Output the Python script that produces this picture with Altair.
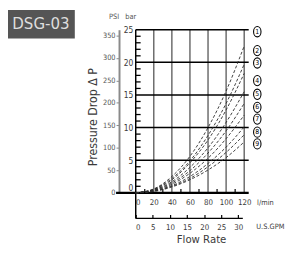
import altair as alt
import pandas as pd

# ---------------- data ----------------
flow_lpm = [0, 20, 40, 60, 80, 100, 120]
curve_ids = ["1", "2", "3", "4", "5", "6", "7", "8", "9"]
dp_1 = [0, 0.6, 2.5, 5.6, 10.0, 15.6, 22.5]
dp_2 = [0, 0.55, 2.2, 4.9, 8.8, 13.7, 19.7]
dp_3 = [0, 0.5, 2.0, 4.6, 8.1, 12.7, 18.3]
dp_4 = [0, 0.45, 1.7, 3.9, 6.9, 10.8, 15.5]
dp_5 = [0, 0.4, 1.5, 3.4, 6.1, 9.5, 13.7]
dp_6 = [0, 0.35, 1.3, 3.0, 5.3, 8.3, 11.9]
dp_7 = [0, 0.3, 1.1, 2.5, 4.5, 7.0, 10.1]
dp_8 = [0, 0.25, 1.0, 2.2, 4.0, 6.2, 8.9]
dp_9 = [0, 0.2, 0.9, 2.0, 3.5, 5.4, 7.8]
all_dp = [dp_1, dp_2, dp_3, dp_4, dp_5, dp_6, dp_7, dp_8, dp_9]

label_bar = [24.7, 21.8, 19.9, 17.2, 15.1, 13.1, 11.3, 9.3, 7.5]
label_flow = 134.5

lpm_ticks = [0, 20, 40, 60, 80, 100, 120]
lpm_minor = [10, 30, 50, 70, 90, 110]
gpm_ticks = [0, 5, 10, 15, 20, 25, 30]
bar_ticks = [0, 5, 10, 15, 20, 25]
bar_minor = [v for v in range(1, 25) if v % 5 != 0]
psi_ticks = [0, 50, 100, 150, 200, 250, 300, 350]
LPM_PER_GPM = 3.785
PSI_PER_BAR = 14.504

# ---------------- layout ----------------
W, H = 115, 166
FONT = "DejaVu Sans Condensed, Liberation Sans Narrow, sans-serif"
TXT = "#3a3a3a"

xs = alt.Scale(domain=[0, 125], nice=False, zero=False)
ys = alt.Scale(domain=[0, 25], nice=False, zero=False)

rows = []
for cid, vals in zip(curve_ids, all_dp):
    for q, v in zip(flow_lpm, vals):
        rows.append({"curve": cid, "q": q, "dp": v})
curves_df = pd.DataFrame(rows)

bar_axis = alt.Axis(
    orient="left", values=bar_ticks, domain=False, ticks=False, tickSize=0,
    grid=False, title=None, labelPadding=3, labelFontSize=8.5, labelColor=TXT,
    labelFont=FONT,
    labelOffset={"condition": {"test": "datum.value === 0", "value": -5}, "value": 0},
)
lpm_axis = alt.Axis(
    orient="bottom", values=lpm_ticks, domain=False, ticks=False, tickSize=0,
    grid=False, title=None, labelPadding=6, labelFontSize=8, labelColor=TXT,
    labelFont=FONT, labelFlush=False, labelOverlap=False,
    labelOffset={"condition": {"test": "datum.value === 0", "value": 2}, "value": 0},
)
psi_axis = alt.Axis(
    orient="left", offset=17, values=[p / PSI_PER_BAR for p in psi_ticks],
    labelExpr="format(datum.value * 14.504, '.0f')",
    domain=True, domainColor="#8a8a8a", domainWidth=2, ticks=True, tickSize=3,
    tickColor="#8a8a8a", grid=False, title=None, labelPadding=1,
    labelFontSize=7.5, labelColor="#555", labelFont=FONT, labelOverlap=False,
)
gpm_axis = alt.Axis(
    orient="bottom", offset=22, values=[g * LPM_PER_GPM for g in gpm_ticks],
    labelExpr="format(datum.value / 3.785, '.0f')",
    domain=False, ticks=True, tickSize=4, tickColor="black", tickWidth=1.2,
    grid=False, title=None, labelPadding=5, labelFontSize=8, labelColor=TXT,
    labelFont=FONT, labelFlush=False, labelOverlap=False,
    labelOffset={"condition": {"test": "datum.value === 0", "value": 2}, "value": 0},
)

# grids
vgrid = alt.Chart(pd.DataFrame({"q": lpm_ticks[1:]})).mark_rule(
    color="#555", strokeWidth=1.3
).encode(
    x=alt.X("q:Q", scale=xs, axis=gpm_axis),
    y=alt.value(0), y2=alt.value(H),
)
hgrid = alt.Chart(pd.DataFrame({"v": bar_ticks[1:]})).mark_rule(
    color="black", strokeWidth=1.5
).encode(
    y=alt.Y("v:Q", scale=ys, axis=psi_axis),
    x=alt.value(0), x2=alt.value(W),
)
bar_minor_ticks = alt.Chart(pd.DataFrame({"v": bar_minor})).mark_rule(
    color="black", strokeWidth=1.3
).encode(
    y=alt.Y("v:Q", scale=ys, axis=None),
    x=alt.value(0), x2=alt.value(5),
)
lpm_minor_ticks = alt.Chart(pd.DataFrame({"q": lpm_minor})).mark_rule(
    color="black", strokeWidth=1.2
).encode(
    x=alt.X("q:Q", scale=xs, axis=None),
    y=alt.value(H - 4), y2=alt.value(H),
)
baseline = alt.Chart(pd.DataFrame({"v": [0]})).mark_rule(
    color="black", strokeWidth=2.2
).encode(
    y=alt.Y("v:Q", scale=ys, axis=None),
    x=alt.value(-20), x2=alt.value(W),
)
bar_axis_line = alt.Chart(pd.DataFrame({"q": [0]})).mark_rule(
    color="black", strokeWidth=1.5
).encode(
    x=alt.X("q:Q", scale=xs, axis=None),
    y=alt.value(0), y2=alt.value(H + 26),
)
gpm_line = alt.Chart(pd.DataFrame({"a": [0], "b": [118.5]})).mark_rule(
    color="black", strokeWidth=1.2
).encode(
    x=alt.X("a:Q", scale=xs, axis=None), x2="b:Q",
    y=alt.value(H + 26),
)

curves = alt.Chart(curves_df).mark_line(
    color="#2a2a2a", strokeWidth=0.9, strokeDash=[3, 2], interpolate="monotone"
).encode(
    x=alt.X("q:Q", scale=xs, axis=lpm_axis),
    y=alt.Y("dp:Q", scale=ys, axis=bar_axis),
    detail="curve:N",
)

lab_df = pd.DataFrame({"id": curve_ids, "y": label_bar, "x": [label_flow] * 9})
ellipse = "M0,-1A0.72,1,0,1,1,0,1A0.72,1,0,1,1,0,-1Z"
circles = alt.Chart(lab_df).mark_point(
    shape=ellipse, size=110, filled=False, stroke="black", strokeWidth=1.1, opacity=1
).encode(
    x=alt.X("x:Q", scale=xs, axis=None),
    y=alt.Y("y:Q", scale=ys, axis=None),
)
circle_txt = alt.Chart(lab_df).mark_text(
    fontSize=7, font=FONT, color="black", baseline="middle", align="center"
).encode(
    x=alt.X("x:Q", scale=xs, axis=None),
    y=alt.Y("y:Q", scale=ys, axis=None),
    text="id:N",
)


def label(txt, x, y, size, color=TXT, angle=0, weight="normal"):
    return alt.Chart(pd.DataFrame({"t": [txt]})).mark_text(
        fontSize=size, font=FONT, color=color, angle=angle,
        baseline="middle", align="center", fontWeight=weight,
    ).encode(text="t:N", x=alt.value(x), y=alt.value(y))


box = alt.Chart(pd.DataFrame({"t": [""]})).mark_rect(color="#555555").encode(
    x=alt.value(-131), x2=alt.value(-62), y=alt.value(-20), y2=alt.value(9)
)

texts = [
    label("DSG-03", -96.5, -6, 17, color="#dedede"),
    label("PSI", -22, -13, 7.5, color="#555"),
    label("bar", -5, -13, 7.5, color="#555"),
    label("Pressure Drop Δ P", -43, 89, 12.5, angle=270),
    label("l/min", 132, 176, 7.5),
    label("U.S.GPM", 137, 201, 7.5),
    label("Flow Rate", 67, 214, 11.5),
]

chart = alt.layer(
    box, vgrid, hgrid, bar_minor_ticks, lpm_minor_ticks, baseline,
    bar_axis_line, gpm_line, curves, circles, circle_txt, *texts
).resolve_axis(
    x="independent", y="independent"
).properties(
    width=W, height=H,
    padding={"left": 130, "top": 20, "right": 40, "bottom": 51},
    autosize=alt.AutoSizeParams(type="none"),
    background="white",
).configure_view(stroke=None)

chart.save("out.html", embed_options={"renderer": "svg", "actions": False})
